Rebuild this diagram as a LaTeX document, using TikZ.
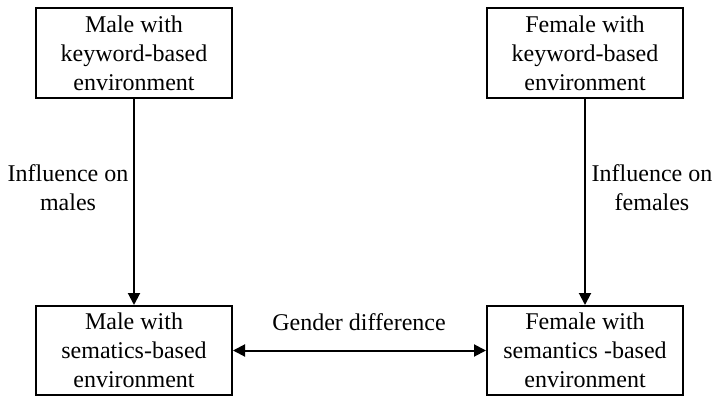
\documentclass[tikz,border=0pt]{standalone}
\usepackage{fontspec}
\setmainfont{Liberation Serif}
\usepackage{tikz}
\usetikzlibrary{arrows.meta}

\begin{document}
\begin{tikzpicture}[
    x = 1pt, y = -1pt, >={Triangle[length = 12pt, width = 12pt]},
    every node/.style = {font = \fontsize{24}{29}\selectfont, align = center},
      envbox/.style = {draw, line width = 2pt, minimum width = 196pt, minimum height = 89pt, inner sep = 0pt},
      link/.style = {line width = 2pt}
    ]
    \useasboundingbox (0,0) rectangle (715,396);
    \node[envbox] (mkey) at (134,53) {Male with\\keyword-based\\environment};
    \node[envbox] (fkey) at (585,53) {Female with\\keyword-based\\environment};
    \node[envbox] (msem) at (134,350.5) {Male with\\sematics-based\\environment};
    \node[envbox] (fsem) at (585,350.5) {Female with\\semantics -based\\environment};
    \draw[link, ->] (mkey) -- (msem);
    \draw[link, ->] (fkey) -- (fsem);
    \draw[link, <->] (msem) -- (fsem);
    \node (minfl) at (68,188) {Influence on\\males};
    \node (finfl) at (652,188) {Influence on\\females};
    \node[anchor = base] (gdiff) at (359,330) {Gender difference};
\end{tikzpicture}
\end{document}
